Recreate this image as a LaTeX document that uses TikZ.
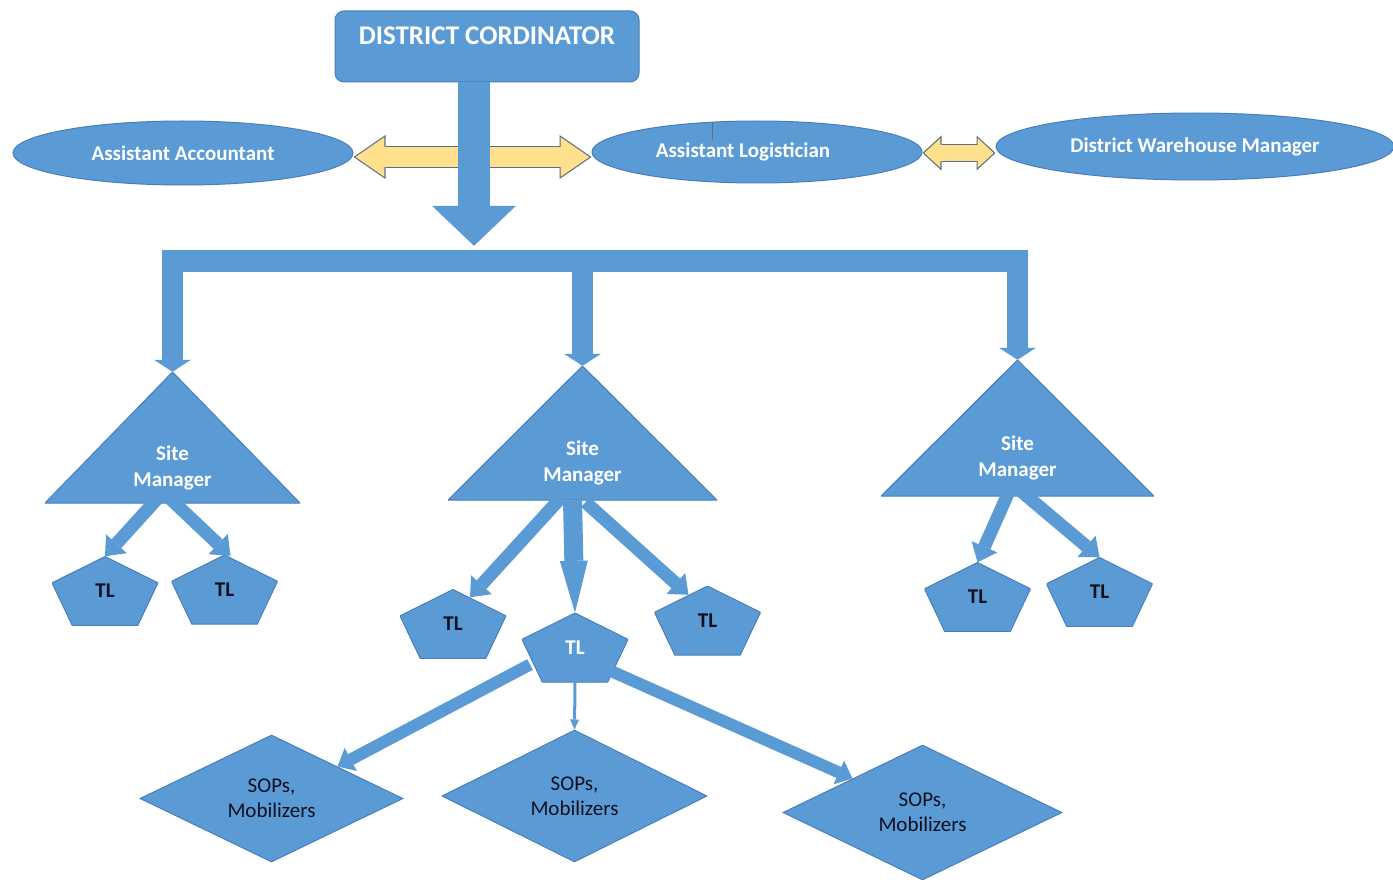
\documentclass[tikz,border=0pt]{standalone}
\usepackage{fontspec}
\setmainfont{Carlito}
\usepackage{xcolor}
\usetikzlibrary{positioning}
\usetikzlibrary{shapes.geometric,arrows.meta,calc}

\definecolor{officeblue}{HTML}{5B9BD5}
\definecolor{edgeblue}{HTML}{4A7EBB}
\definecolor{paleyellow}{HTML}{FFE08C}
\definecolor{edgegray}{HTML}{5F6F7F}
\definecolor{darktext}{HTML}{0F0F1F}

\tikzset{
  blueshape/.style={fill=officeblue, draw=edgeblue, line width=1pt},
  boldtext/.style={font=\fontsize{21}{26}\selectfont\bfseries},
  bossbox/.style={rectangle, rounded corners=9pt, blueshape, text=white,
    minimum width=304pt, minimum height=71pt, text height=15pt, text depth=19pt,
    font=\fontsize{27}{30}\selectfont\bfseries},
  oval/.style={ellipse, blueshape, boldtext, text=white, inner sep=0pt},
  busbar/.style={rectangle, fill=officeblue, inner sep=0pt},
  sitebox/.style={rectangle, inner sep=0pt, path picture={
      \filldraw[blueshape] (path picture bounding box.north)
        -- (path picture bounding box.south east)
        -- (path picture bounding box.south west) -- cycle;},
    label={[boldtext, text=white, align=center, yshift=-30pt]center:Site\\Manager}},
  tlbox/.style={rectangle, inner sep=0pt, minimum width=106pt, minimum height=69pt,
    boldtext, text=darktext, path picture={
      \filldraw[blueshape] let \p1=(path picture bounding box.north west),
        \p2=(path picture bounding box.south east) in
        ({(\x1+\x2)/2},\y1) -- (\x2,{\y1+0.382*(\y2-\y1)})
        -- ({\x1+0.809*(\x2-\x1)},\y2) -- ({\x1+0.191*(\x2-\x1)},\y2)
        -- (\x1,{\y1+0.382*(\y2-\y1)}) -- cycle;}},
  sopbox/.style={diamond, blueshape, inner sep=0pt, align=center, text=darktext,
    font=\fontsize{21}{25}\selectfont},
  bigdown/.style={draw=officeblue, line width=32pt,
    -{Triangle[width=84pt,length=40pt,line width=0pt]}},
  dropdown/.style={draw=officeblue, line width=21pt,
    -{Triangle[width=37pt,length=12pt,line width=0pt]}},
  branch/.style={draw=officeblue, line width=13pt,
    -{Triangle[width=28pt,length=17pt,line width=0pt]}},
  longbranch/.style={draw=officeblue, line width=19pt,
    -{Triangle[width=28pt,length=52pt,line width=0pt]}},
  lowbranch/.style={draw=officeblue, line width=12pt,
    -{Triangle[width=26pt,length=15pt,line width=0pt]}},
  thinbranch/.style={draw=officeblue, line width=3pt,
    -{Triangle[width=9pt,length=10pt,line width=0pt]}},
  bigtwinedge/.style={draw=edgegray, line width=22pt,
    {Triangle[width=44pt,length=32pt,line width=0pt]}-{Triangle[width=44pt,length=32pt,line width=0pt]}},
  bigtwin/.style={draw=paleyellow, line width=19.6pt, shorten <=2.1pt, shorten >=2.1pt,
    {Triangle[width=39.5pt,length=28.7pt,line width=0pt]}-{Triangle[width=39.5pt,length=28.7pt,line width=0pt]}},
  smalltwinedge/.style={draw=edgegray, line width=18pt,
    {Triangle[width=35pt,length=19pt,line width=0pt]}-{Triangle[width=35pt,length=19pt,line width=0pt]}},
  smalltwin/.style={draw=paleyellow, line width=15.6pt, shorten <=1.8pt, shorten >=1.8pt,
    {Triangle[width=29.5pt,length=16pt,line width=0pt]}-{Triangle[width=29.5pt,length=16pt,line width=0pt]}}
}

\begin{document}
\begin{tikzpicture}[x=1pt,y=-1pt]
  \path[use as bounding box, fill=white] (0,0) rectangle (1393,880);
  \node(boss) [bossbox] at (487,46.5) {DISTRICT CORDINATOR};
  \node(acc) [oval, minimum width=340pt, minimum height=64pt] at (183,153) {Assistant Accountant};
  \node(log) [oval, minimum width=330pt, minimum height=62pt,
    label={[boldtext, text=white, xshift=-14pt]center:Assistant Logistician}] at (757,152) {};
  \node(wh) [oval, minimum width=398pt, minimum height=67pt] at (1195,146.5) {District Warehouse Manager};
  \node(bus) [busbar, minimum width=866pt, minimum height=22pt] at (595,261) {};
  \node(sm1) [sitebox, minimum width=255pt, minimum height=131pt] at (172.5,437.5) {};
  \node(sm2) [sitebox, minimum width=269pt, minimum height=134pt] at (582.5,433) {};
  \node(sm3) [sitebox, minimum width=273pt, minimum height=136pt] at (1017.5,428) {};
  \node(tl1) [tlbox] at (105,591) {TL};
  \node(tl2) [tlbox] at (224.5,589.5) {TL};
  \node(tl3) [tlbox] at (453,624) {TL};
  \node(tl4) [tlbox, text=white] at (575,647.5) {TL};
  \node(tl5) [tlbox] at (707.5,620.5) {TL};
  \node(tl6) [tlbox] at (977.5,597) {TL};
  \node(tl7) [tlbox] at (1099.5,592) {TL};
  \node(d1) [sopbox, minimum width=263pt, minimum height=127pt] at (271.5,798.5) {SOPs,\\Mobilizers};
  \node(d2) [sopbox, minimum width=265pt, minimum height=132pt] at (574.5,796) {SOPs,\\Mobilizers};
  \node(d3) [sopbox, minimum width=279pt, minimum height=135pt] at (922.5,812.5) {SOPs,\\Mobilizers};
  \draw[edgegray, line width=1pt] (712,122) -- (712,140);
  \draw[bigtwinedge] ([yshift=-4pt]acc.east) -- ([yshift=-5pt]log.west);
  \draw[bigtwin] ([yshift=-4pt]acc.east) -- ([yshift=-5pt]log.west);
  \draw[smalltwinedge] ([yshift=-1pt]log.east) -- ([yshift=-6.5pt]wh.west);
  \draw[smalltwin] ([yshift=-1pt]log.east) -- ([yshift=-6.5pt]wh.west);
  \draw[bigdown] ([xshift=-13pt]boss.south) -- ([xshift=-121pt,yshift=4pt]bus.north);
  \draw[dropdown] (bus.south -| sm1.north) -- (sm1.north);
  \draw[dropdown] (bus.south -| sm2.north) -- (sm2.north);
  \draw[dropdown] (bus.south -| sm3.north) -- (sm3.north);
  \draw[branch] ([shift={(-12,-8)}]sm1.south) -- (tl1.north);
  \draw[branch] ([shift={(-6,-8)}]sm1.south) -- ([shift={(6,1)}]tl2.north);
  \draw[branch] ([shift={(-22,-2)}]sm2.south) -- ([shift={(17,8)}]tl3.north);
  \draw[longbranch] ([shift={(-10,0)}]sm2.south) -- (tl4.north);
  \draw[branch] ([shift={(3,2)}]sm2.south) -- ([shift={(-19,9)}]tl5.north);
  \draw[branch] ([shift={(-8,-6)}]sm3.south) -- (tl6.north);
  \draw[branch] ([shift={(0,-8)}]sm3.south) -- (tl7.north);
  \draw[lowbranch] ([shift={(-45,17)}]tl4.center) -- (d1.north east);
  \draw[thinbranch] (tl4.south) -- (d2.north);
  \draw[lowbranch] ([shift={(37,24)}]tl4.center) -- (d3.north west);
\end{tikzpicture}
\end{document}
